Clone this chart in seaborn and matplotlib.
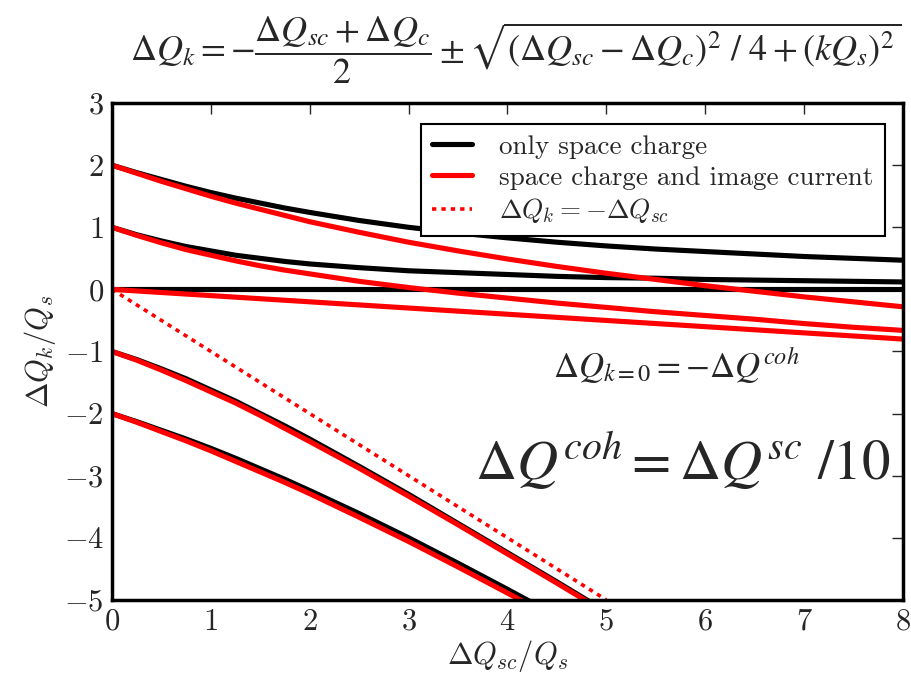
import matplotlib
matplotlib.use("Agg")
import matplotlib.pyplot as plt
import seaborn as sns

x_vals = [0, 0.25, 0.5, 0.75, 1, 1.25, 1.5, 1.75, 2, 2.5, 3, 3.5, 4, 4.5, 5, 5.5, 6, 6.5, 7, 7.5, 8]
x_low = [0, 0.25, 0.5, 0.75, 1, 1.25, 1.5, 1.75, 2, 2.5, 3, 3.5, 4, 4.5, 5]

# only space charge (black)
sc_k2_up = [2.0, 1.88, 1.77, 1.66, 1.56, 1.47, 1.39, 1.31, 1.24, 1.11, 1.0, 0.91, 0.83, 0.76,
            0.70, 0.65, 0.61, 0.57, 0.53, 0.50, 0.47]
sc_k1_up = [1.0, 0.88, 0.78, 0.69, 0.62, 0.55, 0.50, 0.45, 0.41, 0.35, 0.30, 0.27, 0.24, 0.21,
            0.19, 0.18, 0.16, 0.15, 0.14, 0.13, 0.12]
sc_k0 = [0.0] * 21
sc_k1_low = [-1.0, -1.13, -1.28, -1.44, -1.62, -1.80, -2.0, -2.20, -2.41, -2.85, -3.30, -3.77,
             -4.24, -4.71, -5.19]
sc_k2_low = [-2.0, -2.13, -2.27, -2.41, -2.56, -2.72, -2.89, -3.06, -3.24, -3.61, -4.0, -4.41,
             -4.83, -5.26, -5.70]

# space charge and image current (red)
ic_k2_up = [2.0, 1.87, 1.74, 1.62, 1.50, 1.39, 1.29, 1.19, 1.09, 0.92, 0.76, 0.62, 0.49, 0.37,
            0.26, 0.16, 0.06, -0.03, -0.12, -0.20, -0.28]
ic_k1_up = [1.0, 0.87, 0.75, 0.64, 0.55, 0.46, 0.38, 0.31, 0.25, 0.13, 0.03, -0.06, -0.14, -0.22,
            -0.29, -0.36, -0.42, -0.48, -0.55, -0.61, -0.66]
ic_k0 = [0.0, -0.025, -0.05, -0.075, -0.1, -0.125, -0.15, -0.175, -0.2, -0.25, -0.3, -0.35, -0.4,
         -0.45, -0.5, -0.55, -0.6, -0.65, -0.7, -0.75, -0.8]
ic_k1_low = [-1.0, -1.14, -1.30, -1.47, -1.65, -1.83, -2.03, -2.24, -2.45, -2.88, -3.33, -3.79,
             -4.26, -4.73, -5.21]
ic_k2_low = [-2.0, -2.14, -2.29, -2.44, -2.60, -2.77, -2.94, -3.11, -3.29, -3.67, -4.06, -4.47,
             -4.89, -5.32, -5.75]

# dQk = -dQsc
diag_x = [0, 5]
diag_y = [0, -5]

sns.set_style("white")
plt.rcParams["font.family"] = "serif"
plt.rcParams["font.serif"] = ["cmr10", "DejaVu Serif"]
plt.rcParams["mathtext.fontset"] = "cm"
plt.rcParams["axes.formatter.use_mathtext"] = True

fig = plt.figure(figsize=(9.11, 6.74), dpi=100)
ax = fig.add_axes([0.123, 0.110, 0.868, 0.737])

lw = 3.7
sns.lineplot(x=x_vals, y=sc_k2_up, color="black", lw=lw, ax=ax, label="only space charge")
sns.lineplot(x=x_vals, y=sc_k1_up, color="black", lw=lw, ax=ax)
sns.lineplot(x=x_vals, y=sc_k0, color="black", lw=lw, ax=ax)
sns.lineplot(x=x_low, y=sc_k1_low, color="black", lw=lw, ax=ax)
sns.lineplot(x=x_low, y=sc_k2_low, color="black", lw=lw, ax=ax)

sns.lineplot(x=x_vals, y=ic_k2_up, color="red", lw=lw, ax=ax, label="space charge and image current")
sns.lineplot(x=x_vals, y=ic_k1_up, color="red", lw=lw, ax=ax)
sns.lineplot(x=x_vals, y=ic_k0, color="red", lw=lw, ax=ax)
sns.lineplot(x=x_low, y=ic_k1_low, color="red", lw=lw, ax=ax)
sns.lineplot(x=x_low, y=ic_k2_low, color="red", lw=lw, ax=ax)

sns.lineplot(x=diag_x, y=diag_y, color="red", lw=2.6, dashes=False, ax=ax,
             label=r"$\Delta Q_k = -\Delta Q_{sc}$")
ax.lines[-1].set_dashes((1.2, 1.4))

ax.set_xlim(0, 8)
ax.set_ylim(-5, 3)
ax.set_xticks(range(0, 9))
ax.set_yticks(range(-5, 4))
ax.tick_params(direction="in", top=True, right=True, length=8, width=1,
               labelsize=22, pad=6)
for sp in ax.spines.values():
    sp.set_linewidth(2.5)
    sp.set_color("black")

ax.set_xlabel(r"$\Delta Q_{sc}/Q_s$", fontsize=22, labelpad=2)
ax.set_ylabel(r"$\Delta Q_k/Q_s$", fontsize=22, labelpad=4)

leg = ax.legend(loc="upper right", fontsize=19.5, frameon=True, fancybox=False,
                handlelength=1.5, handletextpad=1.0, borderpad=0.4, labelspacing=0.25,
                bbox_to_anchor=(0.994, 0.985))
leg.get_frame().set_edgecolor("black")
leg.get_frame().set_linewidth(1.5)
leg.get_frame().set_alpha(1)

ax.text(4.46, -1.41, r"$\Delta Q_{k=0} = -\Delta Q^{coh}$", fontsize=25,
        math_fontfamily="stix")
ax.text(3.67, -3.07, r"$\Delta Q^{coh} = \Delta Q^{sc}\ /10$", fontsize=41,
        math_fontfamily="stix")

fig.text(0.143, 0.926,
         r"$\Delta Q_k = -\dfrac{\Delta Q_{sc}+\Delta Q_c}{2} \pm \sqrt{(\Delta Q_{sc}-\Delta Q_c)^2\ /\ 4+(kQ_s)^2}$",
         fontsize=26, math_fontfamily="stix", va="center", ha="left")

fig.savefig("out.png", dpi=100)
